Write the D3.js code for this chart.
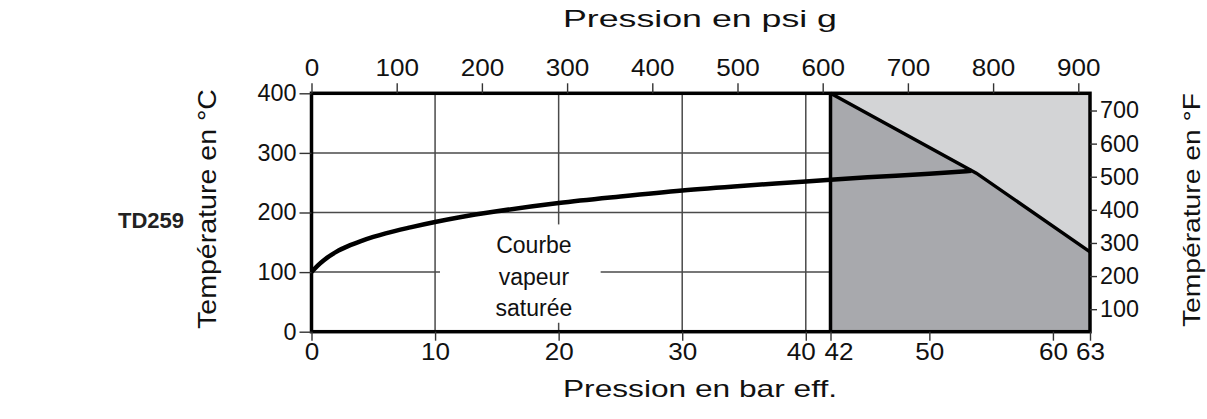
<!DOCTYPE html>
<html>
<head>
<meta charset="utf-8">
<script src="https://cdn.jsdelivr.net/npm/d3@7"></script>
<style>
  body { margin: 0; background: #fff; }
  svg { font-family: Arial, 'Liberation Sans', sans-serif; }
</style>
</head>
<body>
<svg id="chart" width="1207" height="419"></svg>
<script>
// pressure axis (bar eff.) and psi g top axis
const barTicks = [0, 10, 20, 30, 40, 42, 50, 60, 63]
const psiTicks = [0, 100, 200, 300, 400, 500, 600, 700, 800, 900]
const celsiusTicks = [0, 100, 200, 300, 400]
const fahrenheitTicks = [100, 200, 300, 400, 500, 600, 700]
const gridBar = [10, 20, 30, 40]
const gridCelsius = [100, 200, 300]

// saturated steam curve
const satBar = [0, 0.5, 1, 2, 3, 4, 5, 6, 8, 10, 12, 15, 20, 25, 30, 35, 40, 42, 45, 50, 53.4]
const satCelsius = [100, 111, 120, 134, 144, 152, 159, 165, 175, 184, 192, 202, 216, 227, 237, 245, 252, 255, 259, 265, 270]

// limit of the body (shaded zone boundary)
const limitBar = [42, 53.8, 63]
const limitCelsius = [400, 266, 134]

const barMax = 63
const cMax = 400

const svg = d3.select('#chart')
const x = d3.scaleLinear().domain([0, barMax]).range([311.5, 1090])
const y = d3.scaleLinear().domain([0, cMax]).range([331.7, 93.3])
const xPsi = d3.scaleLinear().domain([0, barMax * 14.5038]).range(x.range())
const yF = d3.scaleLinear().domain([32, cMax * 1.8 + 32]).range(y.range())

// shaded zones
const limitPts = limitBar.map((b, i) => [x(b), y(limitCelsius[i])])
svg.append('path')
  .attr('d', d3.line()([[x(42), y(0)], ...limitPts, [x(barMax), y(0)]]) + 'Z')
  .attr('fill', '#a8a9ad')
svg.append('path')
  .attr('d', d3.line()([...limitPts, [x(barMax), y(cMax)]]) + 'Z')
  .attr('fill', '#d3d4d6')

// grid
const grid = svg.append('g').attr('stroke', '#4a4a4a').attr('stroke-width', 1.5)
grid.selectAll('.gx').data(gridBar).enter().append('line')
  .attr('x1', d => x(d)).attr('x2', d => x(d))
  .attr('y1', y(cMax)).attr('y2', d => d === 20 ? y(180) : y(0))
grid.append('line')
  .attr('x1', x(20)).attr('x2', x(20)).attr('y1', y(15)).attr('y2', y(0))
grid.selectAll('.gy').data(gridCelsius).enter().append('line')
  .attr('x1', x(0)).attr('x2', d => d === 100 ? x(10.4) : x(42))
  .attr('y1', d => y(d)).attr('y2', d => y(d))
grid.append('line')
  .attr('x1', x(23.4)).attr('x2', x(42)).attr('y1', y(100)).attr('y2', y(100))

// label
const label = svg.append('text')
  .attr('text-anchor', 'middle')
  .attr('font-size', 23)
  .attr('fill', '#111')
;['Courbe', 'vapeur', 'saturée'].forEach((t, i) => {
  label.append('tspan').attr('x', x(18)).attr('y', 253 + i * 31.5).text(t)
})

// curves
svg.append('path')
  .datum(satBar.map((b, i) => [b, satCelsius[i]]))
  .attr('d', d3.line().x(d => x(d[0])).y(d => y(d[1])).curve(d3.curveMonotoneX))
  .attr('fill', 'none').attr('stroke', '#000').attr('stroke-width', 4.5)
svg.append('path')
  .attr('d', d3.line()(limitPts))
  .attr('fill', 'none').attr('stroke', '#000').attr('stroke-width', 3.4)

// frame
const frame = svg.append('g').attr('stroke', '#000').attr('stroke-width', 3.5).attr('fill', 'none')
frame.append('rect')
  .attr('x', x(0)).attr('y', y(cMax))
  .attr('width', x(barMax) - x(0)).attr('height', y(0) - y(cMax))
frame.append('line')
  .attr('x1', x(42)).attr('x2', x(42)).attr('y1', y(cMax)).attr('y2', y(0))

// axes
function styleAxis(g, digitW) {
  g.select('.domain').remove()
  g.selectAll('.tick line').attr('stroke', '#333').attr('stroke-width', 1.4)
  g.selectAll('.tick text')
    .attr('font-size', 23)
    .attr('fill', '#111')
    .attr('font-family', 'Arial, Liberation Sans, sans-serif')
    .attr('textLength', function () { return this.textContent.length * digitW })
    .attr('lengthAdjust', 'spacingAndGlyphs')
}
const labelShift = {40: -5, 42: 8}
svg.append('g').attr('transform', `translate(0,${y(0)})`)
  .call(d3.axisBottom(x).tickValues(barTicks).tickSize(9).tickPadding(3).tickFormat(d3.format('d')))
  .call(styleAxis, 14.5)
  .selectAll('.tick text').attr('dx', d => labelShift[d] || 0)
svg.append('g').attr('transform', `translate(0,${y(cMax)})`)
  .call(d3.axisTop(xPsi).tickValues(psiTicks).tickSize(10).tickPadding(7).tickFormat(d3.format('d')))
  .call(styleAxis, 14.5)
svg.append('g').attr('transform', `translate(${x(0)},0)`)
  .call(d3.axisLeft(y).tickValues(celsiusTicks).tickSize(12).tickPadding(3).tickFormat(d3.format('d')))
  .call(styleAxis, 13)
svg.append('g').attr('transform', `translate(${x(barMax)},0)`)
  .call(d3.axisRight(yF).tickValues(fahrenheitTicks).tickSize(7).tickPadding(3).tickFormat(d3.format('d')))
  .call(styleAxis, 13)

// titles
const titleStyle = (t, size, len) => t.attr('font-size', size).attr('fill', '#111')
  .attr('text-anchor', 'middle').attr('textLength', len).attr('lengthAdjust', 'spacingAndGlyphs')
svg.append('text').attr('x', 700).attr('y', 27).text('Pression en psi g').call(titleStyle, 24, 274)
svg.append('text').attr('x', 700).attr('y', 397).text('Pression en bar eff.').call(titleStyle, 24, 274)
svg.append('text').attr('transform', 'translate(216,209) rotate(-90)').text('Température en °C').call(titleStyle, 25, 240)
svg.append('text').attr('transform', 'translate(1200,210) rotate(-90)').text('Température en °F').call(titleStyle, 24, 234)
svg.append('text').attr('x', 118).attr('y', 228)
  .attr('font-size', 22).attr('font-weight', 'bold').attr('fill', '#222').text('TD259')
</script>
</body>
</html>
